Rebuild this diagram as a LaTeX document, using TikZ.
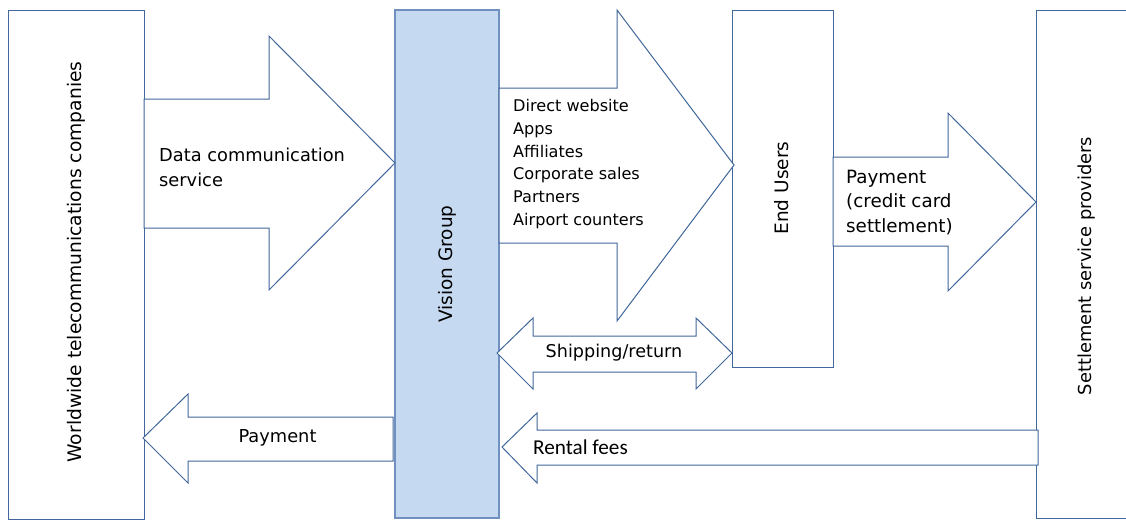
\documentclass[tikz,border=0pt]{standalone}
\usepackage{fontspec}
\setmainfont{DejaVu Sans}
\newfontfamily\calfont{Carlito}
\definecolor{edgeblue}{RGB}{66,103,155}
\definecolor{vfill}{RGB}{197,217,241}
\definecolor{vedge}{RGB}{112,145,192}
\begin{document}
\begin{tikzpicture}[x=1pt,y=-1pt,
  blk/.style={draw=edgeblue,line width=1pt,fill=white,line join=miter},
  boxnode/.style={blk,inner sep=0pt,outer sep=0pt},
  vlabel/.style={rotate=90,inner sep=0pt,font=\fontsize{18.5}{22}\selectfont},
  alabel/.style={inner sep=0pt,align=left}]
\useasboundingbox (0,0) rectangle (1126,520);
% boxes
\node[boxnode,minimum width=136pt,minimum height=509pt] (wtc) at (76,264.5) {};
\node[boxnode,fill=vfill,draw=vedge,line width=1.6pt,minimum width=104pt,minimum height=508pt] (vg) at (447,264) {};
\node[boxnode,minimum width=101pt,minimum height=357pt] (eu) at (782.5,188.5) {};
\node[boxnode,minimum width=100pt,minimum height=508pt] (ssp) at (1086,264) {};
% labels of boxes
\node[vlabel,font=\fontsize{18.7}{22}\selectfont] (wtcl) at (76,262) {Worldwide telecommunications companies};
\node[vlabel] (vgl) at (447,264) {Vision Group};
\node[vlabel] (eul) at (782,188) {End Users};
\node[vlabel,font=\fontsize{17.9}{22}\selectfont] (sspl) at (1087,266) {Settlement service providers};
% block arrows
\draw[blk] (144,99) -- (269,99) -- (269,36) -- (395,163) -- (269,290) -- (269,228) -- (144,228) -- cycle;
\draw[blk] (499,88) -- (617,88) -- (617,10) -- (734,165) -- (617,321) -- (617,243) -- (499,243) -- cycle;
\draw[blk] (833,157) -- (948,157) -- (948,113) -- (1036,202) -- (948,291) -- (948,246) -- (833,246) -- cycle;
\draw[blk] (497,353) -- (533,318) -- (533,336) -- (696,336) -- (696,318) -- (732,353) -- (696,389) -- (696,372) -- (533,372) -- (533,389) -- cycle;
\draw[blk] (502,447) -- (537,413) -- (537,430) -- (1038,430) -- (1038,465) -- (537,465) -- (537,483) -- cycle;
\draw[blk] (143,438) -- (188,394) -- (188,417) -- (393,417) -- (393,461) -- (188,461) -- (188,483) -- cycle;
% arrow labels
\node[alabel,anchor=west,font=\fontsize{17.8}{25}\selectfont] (dcs) at (159,167.5) {Data communication\\service};
\node[alabel,anchor=west,font=\fontsize{16.1}{22.8}\selectfont] (chan) at (513,164) {Direct website\\Apps\\Affiliates\\Corporate sales\\Partners\\Airport counters};
\node[alabel,anchor=west,font=\fontsize{18.3}{24.5}\selectfont] (pay2) at (846,202.5) {Payment\\(credit card\\settlement)};
\node[alabel,font=\fontsize{17.6}{21}\selectfont] (ship) at (614,353) {Shipping/return};
\node[alabel,anchor=west,font=\calfont\fontsize{21.2}{24}\selectfont] (rent) at (533,447) {Rental fees};
\node[alabel,font=\fontsize{17.8}{21}\selectfont] (pay1) at (277.5,438) {Payment};
\end{tikzpicture}
\end{document}
